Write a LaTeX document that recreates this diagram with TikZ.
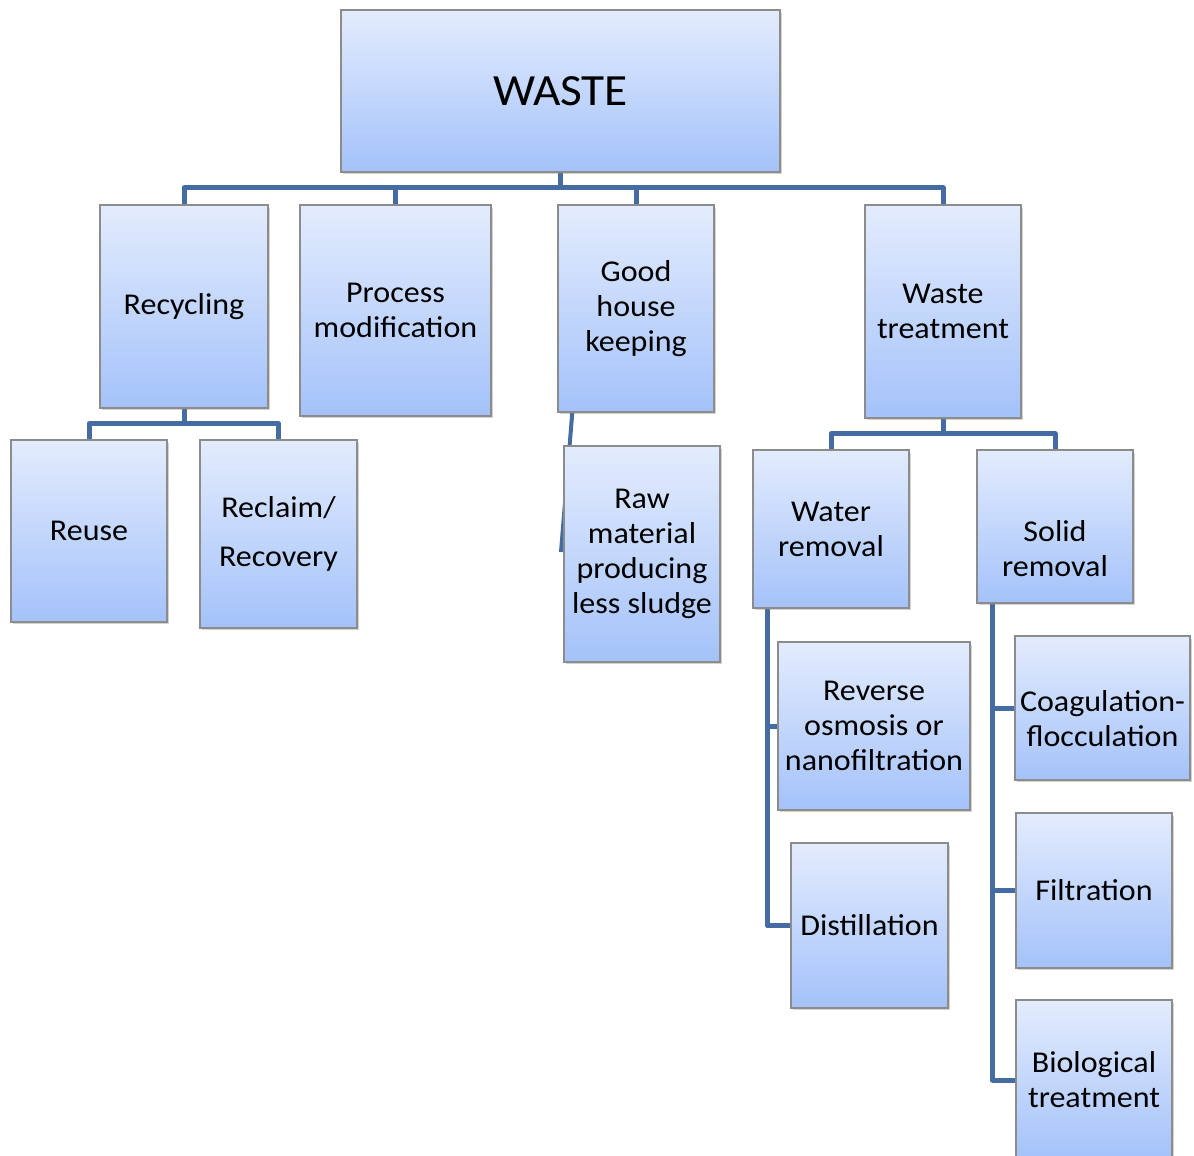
\documentclass[tikz,border=0pt]{standalone}
\usepackage{fontspec}
\setmainfont{Carlito}[FakeStretch=1.06]
\usetikzlibrary{shadows}
\usetikzlibrary{backgrounds}

\definecolor{boxtop}{RGB}{227,236,253}
\definecolor{boxbot}{RGB}{164,194,250}
\definecolor{boxedge}{RGB}{140,140,140}
\definecolor{linkblue}{RGB}{68,108,162}

\tikzset{
  box/.style={draw=boxedge, line width=.3mm, top color=boxtop, bottom color=boxbot, align=center, inner sep=2pt, font=\fontsize{17.2}{20}\selectfont, drop shadow={shadow xshift=.4mm, shadow yshift=-.5mm, opacity=.35}},
  boxtext/.style={align=center, inner sep=0pt, font=\fontsize{17.2}{20}\selectfont},
  link/.style={draw=linkblue, line width=1mm, line join=round}
}

\begin{document}
\begin{tikzpicture}[x=0.02cm, y=-0.02cm]
\useasboundingbox (0,0) rectangle (1194,1156);
\node[box, minimum width=8.78cm, minimum height=3.24cm, font=\fontsize{25.4}{30}\selectfont] (waste) at (560.5,91) {WASTE};
\node[box, minimum width=3.36cm, minimum height=4.06cm] (recyc) at (184,306.5) {Recycling};
\node[box, minimum width=3.82cm, minimum height=4.22cm] (procmod) at (395.5,310.5) {Process\\modification};
\node[box, minimum width=3.12cm, minimum height=4.14cm] (house) at (636,308.5) {Good\\house\\keeping};
\node[box, minimum width=3.12cm, minimum height=4.26cm] (wtreat) at (943,311.5) {Waste\\treatment};
\node[box, minimum width=3.12cm, minimum height=3.64cm] (reuse) at (89,531) {Reuse};
\node[box, minimum width=3.14cm, minimum height=3.76cm] (reclaim) at (278.5,534) {Reclaim/\\[8pt]Recovery};
\node[box, minimum width=3.12cm, minimum height=4.32cm] (rawmat) at (642,554) {Raw\\material\\producing\\less sludge};
\node[box, minimum width=3.12cm, minimum height=3.16cm] (water) at (831,529) {Water\\removal};
\node[box, minimum width=3.12cm, minimum height=3.06cm] (solid) at (1055,526.5) {};
\node[boxtext] (solidtxt) at (1055,548.5) {Solid\\removal};
\node[box, minimum width=3.84cm, minimum height=3.36cm] (reverse) at (874,726) {Reverse\\osmosis or\\nanofiltration};
\node[box, minimum width=3.14cm, minimum height=3.30cm] (distil) at (869.5,925.5) {Distillation};
\node[box, minimum width=3.50cm, minimum height=2.88cm] (coag) at (1102.5,708) {};
\node[boxtext] (coagtxt) at (1102.5,718.5) {Coagulation-\\flocculation};
\node[box, minimum width=3.12cm, minimum height=3.10cm] (filt) at (1094,890.5) {Filtration};
\node[box, minimum width=3.12cm, minimum height=3.20cm] (bio) at (1094,1080) {Biological\\treatment};

\begin{scope}[on background layer]
\foreach \k in {recyc,procmod,house,wtreat}
  \draw[link] (waste.south) -- ++(0,15) -| (\k.north);
\foreach \k in {reuse,reclaim}
  \draw[link] (recyc.south) -- ++(0,15) -| (\k.north);
\foreach \k in {water,solid}
  \draw[link] (wtreat.south) -- ++(0,15) -| (\k.north);
\foreach \k in {reverse,distil}
  \draw[link] (water.south west) ++(15,0) |- (\k.west);
\foreach \k in {coag,filt,bio}
  \draw[link] (solid.south west) ++(16,0) |- (\k.west);
\coordinate (rawtail) at (561,552);
\draw[link, line width=.8mm] (house.south west) ++(15,0) -- (rawtail);
\end{scope}
\end{tikzpicture}
\end{document}
